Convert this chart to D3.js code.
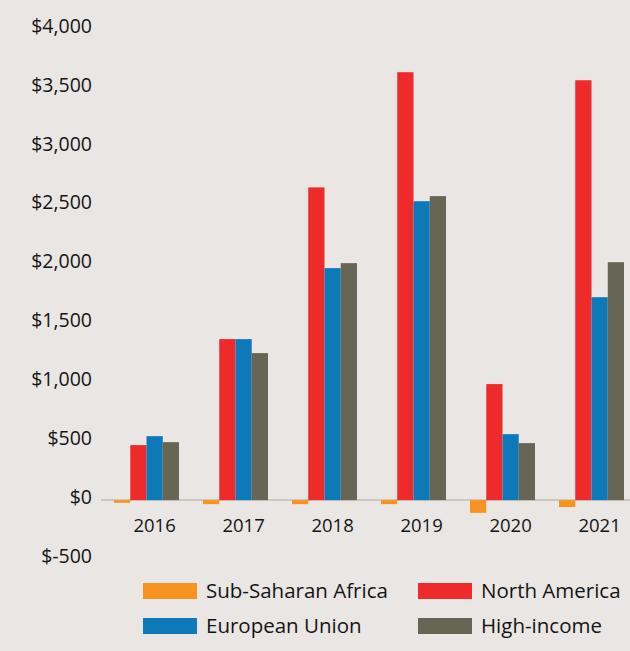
<!DOCTYPE html>
<html>
<head>
<meta charset="utf-8">
<script src="https://cdn.jsdelivr.net/npm/d3@7"></script>
<style>
  html, body { margin: 0; padding: 0; background: #e9e6e3; }
  svg { display: block; font-family: "Open Sans", "Noto Sans", sans-serif; }
</style>
</head>
<body>
<div id="chart"></div>
<script>
// bar chart: four regions per year, y in dollars
const years = ['2016', '2017', '2018', '2019', '2020', '2021'];
const seriesNames = ['Sub-Saharan Africa', 'North America', 'European Union', 'High-income'];
const seriesColors = ['#f7931e', '#ee2a2b', '#0e79b9', '#676554'];

const subSaharanAfrica = [-23, -34, -34, -34, -108, -59];
const northAmerica = [467, 1367, 2655, 3633, 985, 3565];
const europeanUnion = [543, 1367, 1970, 2538, 560, 1723];
const highIncome = [492, 1248, 2012, 2581, 484, 2020];

const yTicks = [-500, 0, 500, 1000, 1500, 2000, 2500, 3000, 3500, 4000];

const seriesValues = [subSaharanAfrica, northAmerica, europeanUnion, highIncome];

const W = 630, H = 651;
const svg = d3.select('#chart').append('svg')
  .attr('width', W).attr('height', H);

svg.append('rect').attr('width', W).attr('height', H).attr('fill', '#e9e6e3');

const y = d3.scaleLinear().domain([-500, 4000]).range([559, 29]);

const x0 = d3.scaleBand().domain(years)
  .range([114, 624])
  .paddingInner(24 / 89)
  .paddingOuter(0);

const x1 = d3.scaleBand().domain(seriesNames)
  .range([0, x0.bandwidth()])
  .padding(0);

// y labels (hyphen, not unicode minus, like the original)
const fmt = d3.format(',');
const yAxis = d3.axisLeft(y).tickValues(yTicks)
  .tickSize(0).tickPadding(0)
  .tickFormat(d => d < 0 ? '$-' + fmt(-d) : '$' + fmt(d));

svg.append('g')
  .attr('transform', 'translate(92,-3)')
  .call(yAxis)
  .call(g => g.select('.domain').remove())
  .selectAll('text')
  .attr('font-size', '19.5px')
  .attr('fill', '#151515')
  .attr('font-family', '"Open Sans", sans-serif');

// zero line
svg.append('line')
  .attr('x1', 101).attr('x2', W)
  .attr('y1', y(0)).attr('y2', y(0))
  .attr('stroke', '#cec7be').attr('stroke-width', 2);

// bars
const groups = svg.append('g').selectAll('g')
  .data(years)
  .join('g')
  .attr('transform', d => `translate(${x0(d)},0)`);

groups.selectAll('rect')
  .data((yr, i) => seriesNames.map((s, j) => ({ s, j, v: seriesValues[j][i] })))
  .join('rect')
  .attr('x', d => x1(d.s))
  .attr('y', d => y(Math.max(0, d.v)))
  .attr('width', x1.bandwidth())
  .attr('height', d => Math.abs(y(d.v) - y(0)))
  .attr('fill', d => seriesColors[d.j]);

// year labels, centred over the last three bars
svg.append('g').selectAll('text')
  .data(years)
  .join('text')
  .attr('x', d => x0(d) + x0.bandwidth() / 2 + x1.bandwidth() / 2)
  .attr('y', 532)
  .attr('text-anchor', 'middle')
  .attr('font-size', '18.5px')
  .attr('fill', '#151515')
  .text(d => d);

// legend
const legendPos = [
  { x: 143, y: 583 },
  { x: 418, y: 583 },
  { x: 143, y: 618 },
  { x: 418, y: 618 }
];
const legend = svg.append('g').selectAll('g')
  .data(seriesNames)
  .join('g')
  .attr('transform', (d, i) => `translate(${legendPos[i].x},${legendPos[i].y})`);

legend.append('rect')
  .attr('width', 54).attr('height', 16)
  .attr('fill', (d, i) => seriesColors[i]);

legend.append('text')
  .attr('x', 63).attr('y', 15)
  .attr('font-size', '20.5px')
  .attr('fill', '#151515')
  .text(d => d);
</script>
</body>
</html>
